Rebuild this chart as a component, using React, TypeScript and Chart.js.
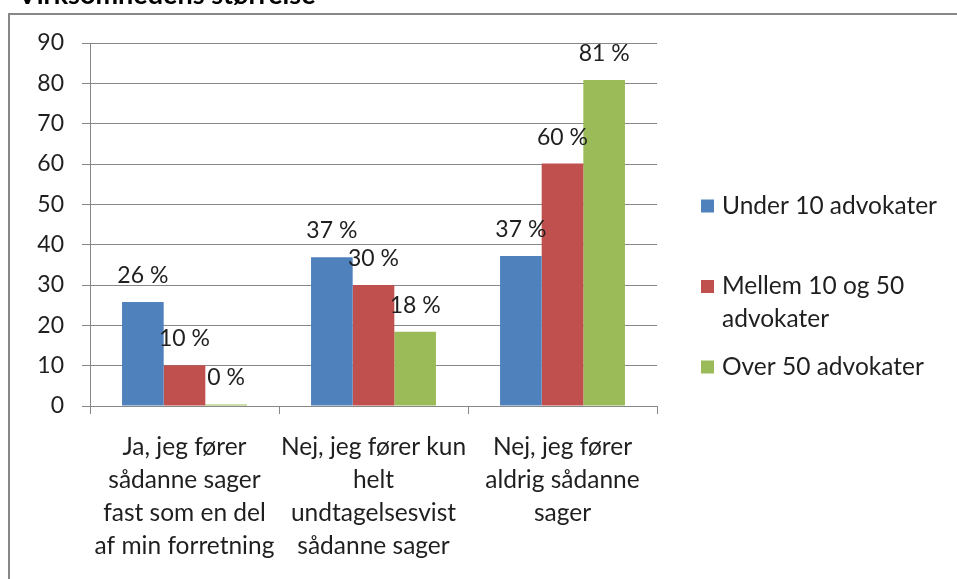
import { useEffect, useRef } from "react";
import { Chart, registerables } from "chart.js";

Chart.register(...registerables);

const categories: string[][] = [
  ["Ja, jeg fører", "sådanne sager", "fast som en del", "af min forretning"],
  ["Nej, jeg fører kun", "helt", "undtagelsesvist", "sådanne sager"],
  ["Nej, jeg fører", "aldrig sådanne", "sager"],
];
const seriesNames = ["Under 10 advokater", "Mellem 10 og 50 advokater", "Over 50 advokater"];
const under10 = [25.8, 36.9, 37.2];
const mellem10og50 = [10.1, 30.0, 60.1];
const over50 = [0.4, 18.4, 80.8];
const seriesColors = ["#4F81BD", "#C0504D", "#9BBB59"];
const yMin = 0;
const yMax = 90;
const yStep = 10;
const titleText = "Virksomhedens størrelse";

const FONT = "Lato, 'Open Sans', sans-serif";
const SIZE = 23;
const LABEL_SIZE = 24.5;
const TITLE_SIZE = 27;
const TEXT = "#1f1f1f";
const GRID = "#878787";

function wrapText(ctx: CanvasRenderingContext2D, text: string, maxW: number): string[] {
  const words = text.split(" ");
  const lines: string[] = [];
  let cur = "";
  for (const w of words) {
    const test = cur ? cur + " " + w : w;
    if (ctx.measureText(test).width > maxW && cur) {
      lines.push(cur);
      cur = w;
    } else {
      cur = test;
    }
  }
  if (cur) lines.push(cur);
  return lines;
}

const framePlugin = {
  id: "frame",
  beforeDraw(chart: any) {
    const ctx = chart.ctx as CanvasRenderingContext2D;
    ctx.save();
    ctx.strokeStyle = GRID;
    ctx.lineWidth = 2;
    ctx.beginPath();
    ctx.moveTo(9, chart.height + 5);
    ctx.lineTo(9, 14);
    ctx.lineTo(chart.width + 5, 14);
    ctx.stroke();
    ctx.font = `bold ${TITLE_SIZE}px ${FONT}`;
    ctx.fillStyle = "#000";
    ctx.textAlign = "left";
    ctx.textBaseline = "alphabetic";
    ctx.fillText(titleText, 18, 4);
    ctx.restore();
  },
};

const valueLabelPlugin = {
  id: "valueLabels",
  afterDatasetsDraw(chart: any) {
    const ctx = chart.ctx as CanvasRenderingContext2D;
    ctx.save();
    ctx.font = `${SIZE}px ${FONT}`;
    ctx.fillStyle = TEXT;
    ctx.textAlign = "center";
    ctx.textBaseline = "alphabetic";
    chart.data.datasets.forEach((ds: any, i: number) => {
      const meta = chart.getDatasetMeta(i);
      meta.data.forEach((el: any, j: number) => {
        const v = ds.data[j] as number;
        ctx.fillText(`${Math.round(v)} %`, el.x, el.y - 19);
      });
    });
    ctx.restore();
  },
};

const sideLegendPlugin = {
  id: "sideLegend",
  afterDraw(chart: any) {
    const ctx = chart.ctx as CanvasRenderingContext2D;
    const area = chart.chartArea;
    ctx.save();
    ctx.font = `${LABEL_SIZE}px ${FONT}`;
    ctx.textAlign = "left";
    ctx.textBaseline = "middle";
    const sqX = area.right + 44;
    const txtX = sqX + 21;
    const maxW = chart.width - txtX - 4;
    chart.data.datasets.forEach((ds: any, i: number) => {
      const y = area.top + 163 + i * 80.5;
      ctx.fillStyle = ds.backgroundColor;
      ctx.fillRect(sqX, y - 6.5, 13, 13);
      ctx.fillStyle = TEXT;
      const lines = wrapText(ctx, ds.label, maxW);
      lines.forEach((ln, k) => ctx.fillText(ln, txtX, y + k * 33));
    });
    ctx.restore();
  },
};

export default function App() {
  const ref = useRef<HTMLCanvasElement | null>(null);

  useEffect(() => {
    if (!ref.current) return;
    const seriesValues = [under10, mellem10og50, over50];
    const chart = new Chart(ref.current, {
      type: "bar",
      data: {
        labels: categories,
        datasets: seriesNames.map((name, i) => ({
          label: name,
          data: seriesValues[i],
          backgroundColor: seriesColors[i],
          borderWidth: 0,
          categoryPercentage: 0.661,
          barPercentage: 1,
        })),
      },
      options: {
        responsive: false,
        animation: false,
        layout: { padding: { left: 0, top: 43, right: 300, bottom: 0 } },
        plugins: {
          legend: { display: false },
          tooltip: { enabled: false },
          title: { display: false },
        },
        scales: {
          x: {
            offset: true,
            grid: {
              display: true,
              drawOnChartArea: false,
              drawTicks: true,
              tickLength: 8,
              color: GRID,
              offset: true,
            },
            border: { display: true, color: GRID },
            ticks: {
              color: TEXT,
              font: { family: FONT, size: LABEL_SIZE, lineHeight: 33 / LABEL_SIZE },
              padding: 17,
              maxRotation: 0,
              minRotation: 0,
              autoSkip: false,
            },
            afterFit: (scale: any) => {
              scale.height = 173;
            },
          },
          y: {
            min: yMin,
            max: yMax,
            ticks: {
              stepSize: yStep,
              color: TEXT,
              font: { family: FONT, size: SIZE },
              padding: 18,
            },
            grid: { color: GRID, tickLength: 8, drawTicks: true },
            border: { display: true, color: GRID },
            afterFit: (scale: any) => {
              scale.width = 90;
            },
          },
        },
      },
      plugins: [framePlugin, valueLabelPlugin, sideLegendPlugin],
    });
    return () => chart.destroy();
  }, []);

  return (
    <div style={{ position: "absolute", left: 0, top: 0, width: 957, height: 579, background: "#fff" }}>
      <canvas ref={ref} width={957} height={579} style={{ display: "block" }} />
    </div>
  );
}
